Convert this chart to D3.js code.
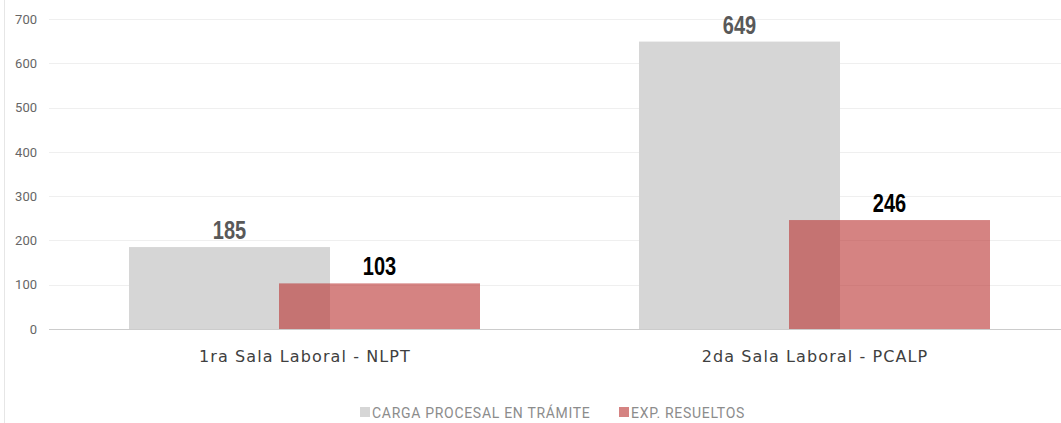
<!DOCTYPE html>
<html>
<head>
<meta charset="utf-8">
<script src="https://cdn.jsdelivr.net/npm/d3@7"></script>
<style>
  body { margin: 0; background: #fff; }
  svg { display: block; }
</style>
</head>
<body>
<div id="container"><svg></svg></div>
<script>
const categories = ["1ra Sala Laboral - NLPT", "2da Sala Laboral - PCALP"];
const seriesNames = ["CARGA PROCESAL EN TRÁMITE", "EXP. RESUELTOS"];
const cargaValues = [185, 649];
const resueltosValues = [103, 246];
const yTicks = [0, 100, 200, 300, 400, 500, 600, 700];

const width = 1061, height = 423;
const svg = d3.select("#container").select("svg")
    .attr("width", width)
    .attr("height", height);

// borde izquierdo
svg.append("line")
    .attr("x1", 4.5).attr("x2", 4.5)
    .attr("y1", 0).attr("y2", height)
    .attr("stroke", "#e6e6e6");

const x = d3.scaleBand().domain(categories).range([50, 1070]);
const y = d3.scaleLinear().domain([0, 700]).range([329, 19]);

// gridlines
svg.append("g")
    .selectAll("line")
    .data(yTicks.filter(d => d > 0))
    .join("line")
    .attr("x1", 49).attr("x2", width)
    .attr("y1", d => Math.round(y(d)) + 0.5)
    .attr("y2", d => Math.round(y(d)) + 0.5)
    .attr("stroke", "#efefef");

// eje y
const yAxis = svg.append("g")
    .attr("transform", "translate(49,0)")
    .call(d3.axisLeft(y).tickValues(yTicks).tickSize(0).tickPadding(12));
yAxis.select(".domain").remove();
yAxis.selectAll("text")
    .attr("fill", "#666")
    .style("font-family", "Roboto, 'Liberation Sans', sans-serif")
    .style("font-size", "13px");

const barW = 201;
const series = [
  { name: seriesNames[0], values: cargaValues, off: -176, fill: "#d6d6d6", opacity: 1, label: "#595959" },
  { name: seriesNames[1], values: resueltosValues, off: -26, fill: "#b9302f", opacity: 0.6, label: "#000" }
];

series.forEach(s => {
  const g = svg.append("g");
  g.selectAll("rect")
    .data(categories)
    .join("rect")
    .attr("x", (d, i) => x(d) + x.bandwidth() / 2 + s.off)
    .attr("y", (d, i) => y(s.values[i]))
    .attr("width", barW)
    .attr("height", (d, i) => y(0) - y(s.values[i]))
    .attr("fill", s.fill)
    .attr("fill-opacity", s.opacity);
  // etiquetas de valor, comprimidas para imitar una fuente estrecha
  g.selectAll("text")
    .data(categories)
    .join("text")
    .attr("transform", (d, i) =>
      `translate(${x(d) + x.bandwidth() / 2 + s.off + barW / 2},${y(s.values[i]) - 8}) scale(0.8,1)`)
    .attr("text-anchor", "middle")
    .attr("fill", s.label)
    .style("font-family", "'Liberation Sans', Arial, sans-serif")
    .style("font-weight", "bold")
    .style("font-size", "25px")
    .text((d, i) => s.values[i]);
});

// línea base
svg.append("line")
    .attr("x1", 49).attr("x2", width)
    .attr("y1", y(0) + 0.5).attr("y2", y(0) + 0.5)
    .attr("stroke", "#cccccc");

// etiquetas de categoría
svg.append("g")
    .selectAll("text")
    .data(categories)
    .join("text")
    .attr("x", d => x(d) + x.bandwidth() / 2)
    .attr("y", 362)
    .attr("text-anchor", "middle")
    .attr("fill", "#404040")
    .style("font-family", "'DejaVu Sans', sans-serif")
    .style("font-size", "16px")
    .style("letter-spacing", "1.1px")
    .text(d => d);

// leyenda
const legendX = [360, 619];
const legend = svg.append("g")
    .selectAll("g")
    .data(series)
    .join("g")
    .attr("transform", (d, i) => `translate(${legendX[i]},407)`);
legend.append("rect")
    .attr("width", 10).attr("height", 10)
    .attr("fill", d => d.fill)
    .attr("fill-opacity", d => d.opacity);
legend.append("text")
    .attr("x", 12).attr("y", 10.5)
    .attr("fill", "#8c8c8c")
    .style("font-family", "Roboto, 'Liberation Sans', sans-serif")
    .style("font-size", "14px")
    .style("letter-spacing", "0.7px")
    .text(d => d.name);
</script>
</body>
</html>
